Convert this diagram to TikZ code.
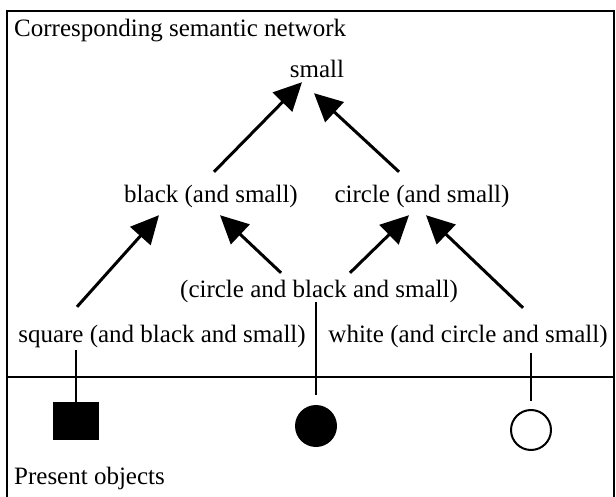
\documentclass[tikz,border=0pt]{standalone}
\usepackage{fontspec}
\setmainfont{Liberation Serif}
\usetikzlibrary{arrows.meta, positioning}

\tikzset{
	lbl/.style={inner sep=0pt, anchor=base, text height=18pt, text depth=6pt, font=\fontsize{25}{30}\selectfont},
	isa/.style={line width=3pt, -{Triangle[length=28pt, width=27pt]}},
	wire/.style={line width=2pt},
}

\begin{document}
\begin{tikzpicture}[x=1pt, y=-1pt]
	\useasboundingbox (0,0) rectangle (616,497);
	% Frame and divider:
	\draw[wire] (7,497) -- (7,11) -- (614,11) -- (614,497);
	\draw[wire] (7,377) -- (614,377);
	% Network labels:
	\node[lbl, anchor=base west] (title) at (14,37) {Corresponding semantic network};
	\node[lbl] (small) at (317,78) {small};
	\node[lbl] (blk) at (211,203) {black (and small)};
	\node[lbl] (circ) at (422,203) {circle (and small)};
	\node[lbl] (cbs) at (319,298) {(circle and black and small)};
	\node[lbl] (sq) at (162,342) {square (and black and small)};
	\node[lbl] (wht) at (468,342) {white (and circle and small)};
	\node[lbl, anchor=base west] (present) at (14,484) {Present objects};
	% Arrows:
	\draw[isa] ([xshift=3pt, yshift=13pt]blk.north) -- ([xshift=-15pt, yshift=2pt]small.south);
	\draw[isa] ([xshift=-23pt, yshift=13pt]circ.north) -- ([xshift=-3pt, yshift=-9pt]small.south);
	\draw[isa] ([xshift=-85pt, yshift=17pt]sq.north) -- ([xshift=-52pt, yshift=-6pt]blk.south);
	\draw[isa] ([xshift=-38pt, yshift=7pt]cbs.north) -- ([xshift=9pt, yshift=-6pt]blk.south);
	\draw[isa] ([xshift=31pt, yshift=7pt]cbs.north) -- ([xshift=-13pt, yshift=-6pt]circ.south);
	\draw[isa] ([xshift=55pt, yshift=16pt]wht.north) -- ([xshift=4pt, yshift=-6pt]circ.south);
	% Present objects:
	\node[fill=black, minimum width=46pt, minimum height=38pt, inner sep=0pt] (sqobj) at (76,421) {};
	\node[circle, fill=black, minimum size=42pt, inner sep=0pt] (blkobj) at (316,426) {};
	\node[circle, draw, wire, minimum size=40pt, inner sep=0pt] (whtobj) at (531,430) {};
	\draw[wire, shorten <=2pt, shorten >=-3pt] (sq.south -| sqobj.north) -- (sqobj.north);
	\draw[wire, shorten <=-2pt, shorten >=10pt] (cbs.south -| blkobj.north) -- (blkobj.north);
	\draw[wire, shorten <=5pt, shorten >=8pt] (wht.south -| whtobj.north) -- (whtobj.north);
\end{tikzpicture}
\end{document}
